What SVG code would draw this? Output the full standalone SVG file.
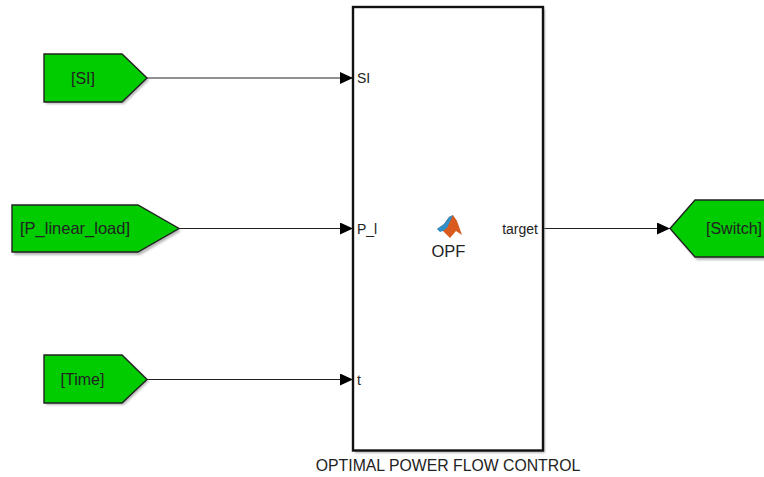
<svg xmlns="http://www.w3.org/2000/svg" width="764" height="477" viewBox="0 0 764 477">
<style>
text{font-family:"Liberation Sans",Arial,sans-serif;font-size:14px;fill:#222}
.big{font-size:16px}
.tag{fill:#00cc00;stroke:#222;stroke-width:1.4;stroke-linejoin:miter}
.shadow{fill:#999;opacity:.7}
.wire{stroke:#222;stroke-width:1.1;fill:none;marker-end:url(#arrow)}
.m{text-anchor:middle}
</style>
<defs>
<marker id="arrow" markerUnits="userSpaceOnUse" markerWidth="13" markerHeight="12" refX="13" refY="6" orient="auto"><path d="M0 0L13 6L0 12Z" fill="#000"/></marker>
<filter id="b" x="-5%" y="-5%" width="110%" height="110%"><feGaussianBlur stdDeviation="1"/></filter>
</defs>
<rect width="764" height="477" fill="#fff"/>
<g id="connectors">
<path class="wire" d="M147 78H353"/>
<path class="wire" d="M179 228.500H353"/>
<path class="wire" d="M147 379.500H353"/>
<path class="wire" d="M543 228.500H670"/>
</g>
<g id="si">
<path class="shadow" filter="url(#b)" d="M46 56H124L149 80L124 104H46Z"/>
<path class="tag" d="M44 54H122L147 78L122 102H44Z"/>
<text class="m big" x="83" y="84">[SI]</text>
</g>
<g id="p-linear-load">
<path class="shadow" filter="url(#b)" d="M14 207H140L181 231L140 255H14Z"/>
<path class="tag" d="M12 205H138L179 228.500L138 252H12Z"/>
<text class="m big" x="75" y="234" style="font-size:16.500px">[P_linear_load]</text>
</g>
<g id="time">
<path class="shadow" filter="url(#b)" d="M46 357H124L149 381L124 405H46Z"/>
<path class="tag" d="M44 355H122L147 379.500L122 403H44Z"/>
<text class="m big" x="82.500" y="385">[Time]</text>
</g>
<g id="switch">
<path class="shadow" filter="url(#b)" d="M697 202H766V260H697L672 231Z"/>
<path class="tag" d="M695 200H766V257H695L670 228.500Z"/>
<text class="big" x="706" y="234">[Switch]</text>
</g>
<g id="opf">
<rect x="355" y="9" width="190" height="444" fill="#999" opacity=".7" filter="url(#b)"/>
<rect x="353" y="7" width="190" height="443.500" fill="#fff" stroke="#111" stroke-width="2.400"/>
<text x="357" y="83">SI</text>
<text x="357" y="234">P_l</text>
<text x="357" y="385">t</text>
<text x="538" y="234" text-anchor="end">target</text>
<text class="m" x="448.500" y="257" style="font-size:16.500px">OPF</text>
<path d="M437 229L444 224L449 217L453 215L457 221L462 235L456 231L450 238L443 231Z" fill="#d95a1e"/>
<path d="M437 229L444 224L449 217L453 215L447 228L443 231L440 232Z" fill="#2f8fc9"/>
<text class="m" x="448" y="471" style="font-size:15.800px">OPTIMAL POWER FLOW CONTROL</text>
</g>
</svg>
